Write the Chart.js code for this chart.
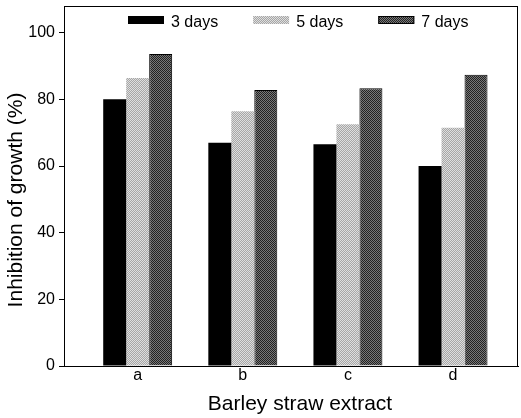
<!DOCTYPE html>
<html lang="en">
<head>
    <meta charset="UTF-8">
    <script src="https://cdn.jsdelivr.net/npm/chart.js@4.4.1/dist/chart.umd.min.js"></script>
    <title>Barley straw extract</title>
    <style>
        html, body {
            margin: 0;
            padding: 0;
            background: #fff;
        }

        #chart-container {
            width: 521px;
            height: 418px;
        }
    </style>
</head>

<body>
    <div id="chart-container">
        <canvas id="growthChart" width="521" height="418"></canvas>
    </div>
    <script>
        const categories = ['a', 'b', 'c', 'd'];
        const seriesLabels = ['3 days', '5 days', '7 days'];
        const days3 = [80, 67, 66.5, 60];
        const days5 = [86.4, 76.4, 72.5, 71.5];
        const days7 = [93.6, 82.8, 83.3, 87.4];
        const yTicks = [0, 20, 40, 60, 80, 100];
        const xTitle = 'Barley straw extract';
        const yTitle = 'Inhibition of growth (%)';

        const FONT = "'Liberation Sans', Arial, Helvetica, sans-serif";

        // small dithered tile used as a grey screen fill
        function stipple(tile) {
            const c = document.createElement('canvas');
            c.width = tile[0].length;
            c.height = tile.length;
            const g = c.getContext('2d');
            tile.forEach((row, y) => row.forEach((col, x) => {
                g.fillStyle = col;
                g.fillRect(x, y, 1, 1);
            }));
            return g.createPattern(c, 'repeat');
        }

        const w = '#dedede', l = '#a6a6a6';
        const lightScreen = stipple([
            [w, l],
            [l, w]
        ]);
        const d = '#222222', g1 = '#787878';
        const darkScreen = stipple([
            [d, g1],
            [g1, d]
        ]);

        const fills = ['#000', lightScreen, darkScreen];
        const borders = [0, 0, 1];

        function points(values) {
            return categories.map((c, i) => ({ x: i + 1, y: values[i] }));
        }

        // box round the plot area
        const frame = {
            id: 'frame',
            afterDatasetsDraw(chart) {
                const { ctx, chartArea: a } = chart;
                ctx.save();
                ctx.strokeStyle = '#000';
                ctx.lineWidth = 1;
                ctx.strokeRect(Math.round(a.left) + 0.5, Math.round(a.top) + 0.5,
                    Math.round(a.right - a.left) - 1, Math.round(a.bottom - a.top));
                ctx.restore();
            }
        };

        // axis titles, placed a little off the plot centre as in the printed figure
        const titles = {
            id: 'titles',
            afterDraw(chart) {
                const { ctx } = chart;
                ctx.save();
                ctx.fillStyle = '#000';
                ctx.font = '21px ' + FONT;
                ctx.textAlign = 'center';
                ctx.textBaseline = 'alphabetic';
                ctx.fillText(xTitle, 300, 410);
                ctx.translate(22, 200);
                ctx.rotate(-Math.PI / 2);
                ctx.fillText(yTitle, 0, 0);
                ctx.restore();
            }
        };

        // key drawn in one row inside the top of the plot
        const key = {
            id: 'key',
            afterDraw(chart) {
                const { ctx, chartArea: a } = chart;
                ctx.save();
                ctx.font = '16px ' + FONT;
                ctx.textBaseline = 'middle';
                let x = a.left + 64;
                const y = 16;
                chart.data.datasets.forEach(ds => {
                    ctx.fillStyle = ds.backgroundColor;
                    ctx.fillRect(x, y, 36, 8);
                    if (ds.borderWidth) {
                        ctx.strokeStyle = '#000';
                        ctx.lineWidth = 1;
                        ctx.strokeRect(x + 0.5, y + 0.5, 35, 7);
                    }
                    x += 36 + 7;
                    ctx.fillStyle = '#000';
                    ctx.fillText(ds.label, x, y + 7);
                    x += ctx.measureText(ds.label).width + 35;
                });
                ctx.restore();
            }
        };

        const ctx = document.getElementById('growthChart').getContext('2d');
        new Chart(ctx, {
            type: 'bar',
            data: {
                datasets: [days3, days5, days7].map((vals, i) => ({
                    label: seriesLabels[i],
                    data: points(vals),
                    backgroundColor: fills[i],
                    borderColor: '#000',
                    borderWidth: borders[i],
                    borderSkipped: 'bottom',
                    categoryPercentage: 0.656,
                    barPercentage: 1
                }))
            },
            options: {
                responsive: false,
                animation: false,
                devicePixelRatio: 1,
                layout: { padding: { top: 6, right: 3, left: 0, bottom: 0 } },
                plugins: {
                    legend: { display: false },
                    tooltip: { enabled: false }
                },
                scales: {
                    x: {
                        type: 'linear',
                        offset: false,
                        min: 0.299,
                        max: 4.618,
                        afterBuildTicks: axis => {
                            axis.ticks = categories.map((c, i) => ({ value: i + 1 }));
                        },
                        afterFit: axis => {
                            axis.height = 52;
                            axis.paddingLeft = 0;
                            axis.paddingRight = 0;
                        },
                        ticks: {
                            callback: v => categories[v - 1],
                            color: '#000',
                            font: { family: FONT, size: 16 },
                            padding: 0,
                            maxRotation: 0
                        },
                        grid: { display: false, drawTicks: false },
                        border: { color: '#000' }
                    },
                    y: {
                        min: 0,
                        max: 108,
                        afterBuildTicks: axis => {
                            axis.ticks = yTicks.map(v => ({ value: v }));
                        },
                        afterFit: axis => {
                            axis.width = 64;
                            axis.paddingTop = 0;
                            axis.paddingBottom = 0;
                        },
                        ticks: {
                            color: '#000',
                            font: { family: FONT, size: 16 },
                            padding: 4
                        },
                        grid: {
                            drawOnChartArea: false,
                            drawTicks: true,
                            tickLength: 5,
                            color: '#000'
                        },
                        border: { color: '#000' }
                    }
                }
            },
            plugins: [frame, key, titles]
        });
    </script>
</body>
</html>
